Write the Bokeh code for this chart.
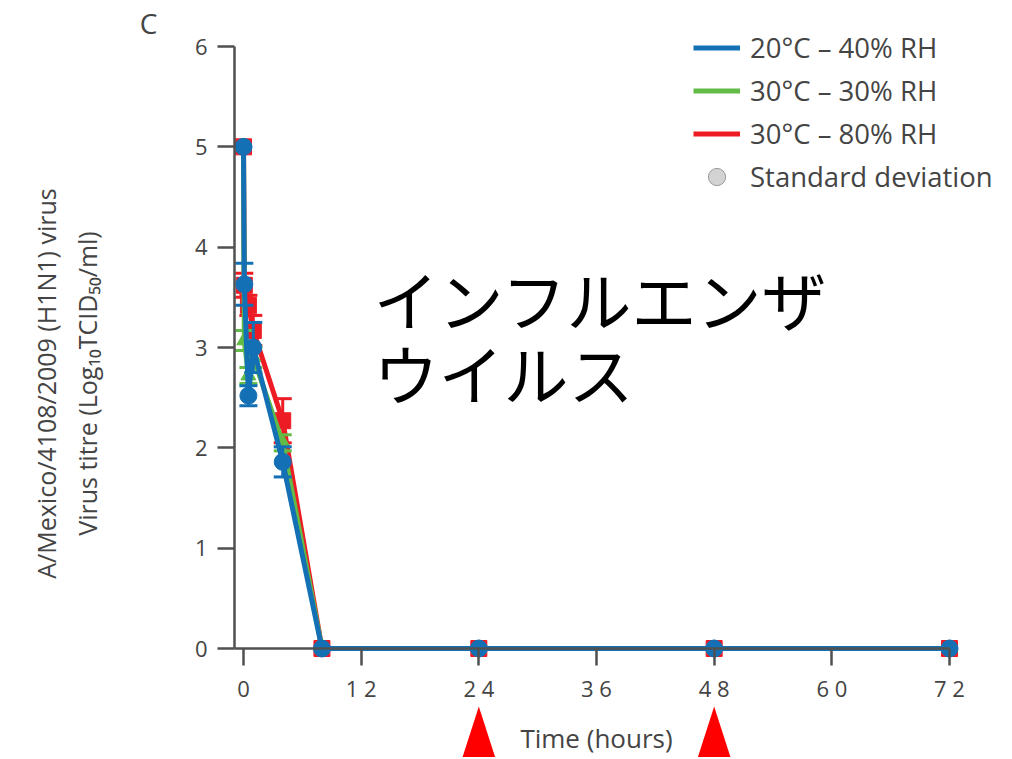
import math
from bokeh.plotting import figure
from bokeh.models import (ColumnDataSource, Range1d, FixedTicker, Legend, LegendItem,
                          Label, PolyAnnotation)
from bokeh.embed import file_html
from bokeh.resources import INLINE

# ---------------- data ----------------
hours = [0, 0.083, 0.5, 1, 4, 8, 24, 48, 72]

titre_20c_40rh = [5.0, 3.63, 2.52, 3.0, 1.86, 0, 0, 0, 0]
sd_20c_40rh = [0.0, 0.21, 0.10, 0.25, 0.15, 0, 0, 0, 0]

titre_30c_30rh = [5.0, 3.07, 2.72, 2.90, 2.05, 0, 0, 0, 0]
sd_30c_30rh = [0.0, 0.10, 0.08, 0.10, 0.08, 0, 0, 0, 0]

titre_30c_80rh = [5.0, 3.62, 3.42, 3.17, 2.27, 0, 0, 0, 0]
sd_30c_80rh = [0.0, 0.12, 0.10, 0.15, 0.22, 0, 0, 0, 0]

series_labels = ["20°C – 40% RH", "30°C – 30% RH", "30°C – 80% RH"]
sd_label = "Standard deviation"

x_ticks = [0, 12, 24, 36, 48, 60, 72]
x_tick_labels = ["0", "1 2", "2 4", "3 6", "4 8", "6 0", "7 2"]
y_ticks = [0, 1, 2, 3, 4, 5, 6]

arrow_hours = [24, 48]

y_title_1 = "A/Mexico/4108/2009 (H1N1) virus"
y_title_2 = "Virus titre (Log₁₀TCID₅₀/ml)"
x_title = "Time (hours)"
panel_letter = "C"
overlay_text = ["インフルエンザ", "ウイルス"]

# ---------------- styles / layout ----------------
BLUE = "#1470b4"
GREEN = "#62bb46"
RED = "#ed1c24"
AXIS = "#505050"
TEXT = "#444444"
FONT = "Open Sans"

W, H = 1010, 757
PX_PER_HOUR = 9.8056
PX_PER_UNIT = 100.333
X_ZERO_PX, Y_ZERO_PX = 243, 648          # canvas position of (0, 0)
X0 = -X_ZERO_PX / PX_PER_HOUR
X1 = (W - X_ZERO_PX) / PX_PER_HOUR
Y1 = Y_ZERO_PX / PX_PER_UNIT
Y0 = (Y_ZERO_PX - H) / PX_PER_UNIT
YAXIS_AT = -9 / PX_PER_HOUR               # y axis sits 9px left of t = 0

p = figure(width=W, height=H, x_range=Range1d(X0, X1), y_range=Range1d(Y0, Y1),
           output_backend="svg", toolbar_location=None, min_border=0)
p.outline_line_color = None
p.xgrid.visible = False
p.ygrid.visible = False
p.background_fill_color = "white"
p.border_fill_color = "white"

# axes
xa = p.xaxis[0]
xa.fixed_location = 0
xa.bounds = (YAXIS_AT, 72)
xa.ticker = FixedTicker(ticks=x_ticks)
xa.major_label_overrides = {t: l for t, l in zip(x_ticks, x_tick_labels)}
ya = p.yaxis[0]
ya.fixed_location = YAXIS_AT
ya.bounds = (0, 6)
ya.ticker = FixedTicker(ticks=y_ticks)
for ax in (xa, ya):
    ax.minor_tick_line_color = None
    ax.major_tick_in = 0
    ax.major_tick_out = 17
    ax.major_tick_line_width = 2.5
    ax.major_tick_line_color = AXIS
    ax.axis_line_width = 2.5
    ax.axis_line_color = AXIS
    ax.major_label_text_font = FONT
    ax.major_label_text_font_size = "22px"
    ax.major_label_text_color = TEXT
xa.major_label_standoff = 7
ya.major_label_standoff = 10

# series
series = [
    (titre_30c_80rh, sd_30c_80rh, RED, "square", 16, series_labels[2]),
    (titre_30c_30rh, sd_30c_30rh, GREEN, "triangle", 15, series_labels[1]),
    (titre_20c_40rh, sd_20c_40rh, BLUE, "circle", 17, series_labels[0]),
]
line_renderers = {}
for vals, sds, col, marker, msize, lab in series:
    idx = [i for i, s in enumerate(sds) if s > 0]
    eb = ColumnDataSource(dict(
        x=[hours[i] for i in idx],
        lo=[vals[i] - sds[i] for i in idx],
        hi=[vals[i] + sds[i] for i in idx],
    ))
    p.segment(x0="x", y0="lo", x1="x", y1="hi", source=eb, line_color=col, line_width=3)
    p.scatter(x="x", y="lo", source=eb, marker="dash", size=18, line_color=col, line_width=3)
    p.scatter(x="x", y="hi", source=eb, marker="dash", size=18, line_color=col, line_width=3)
    src = ColumnDataSource(dict(x=hours, y=vals))
    lr = p.line(x="x", y="y", source=src, line_color=col, line_width=5)
    p.scatter(x="x", y="y", source=src, marker=marker, size=msize,
              fill_color=col, line_color=col)
    line_renderers[lab] = lr

# legend "standard deviation" key (a not-plotted sample so the key can be drawn)
key_src = ColumnDataSource(dict(x=[float("nan")], y=[float("nan")]))
sd_dot = p.scatter(x="x", y="y", source=key_src, marker="circle", size=19,
                   fill_color="#d3d3d3", line_color="#9a9a9a", line_width=1)

items = [LegendItem(label=lab, renderers=[line_renderers[lab]]) for lab in series_labels]
items.append(LegendItem(label=sd_label, renderers=[sd_dot]))
legend = Legend(items=items, location=(693, H - 197.5), orientation="vertical",
                border_line_color=None, background_fill_alpha=0,
                padding=0, margin=0, spacing=0,
                glyph_width=47, glyph_height=43, label_height=43, label_standoff=10,
                label_text_font=FONT, label_text_font_size="27.5px", label_text_color=TEXT)
p.add_layout(legend, "center")

# red arrow markers under the axis
AH_W = 19 / PX_PER_HOUR
TIP = (Y_ZERO_PX - 706) / PX_PER_UNIT
BASE = (Y_ZERO_PX - 765) / PX_PER_UNIT
for h in arrow_hours:
    p.add_layout(PolyAnnotation(xs=[h - AH_W, h, h + AH_W], ys=[BASE, TIP, BASE],
                                fill_color="#ff0000", fill_alpha=1.0, line_color=None))

# texts
def px_x(px):
    return (px - X_ZERO_PX) / PX_PER_HOUR

def px_y(py):
    return (Y_ZERO_PX - py) / PX_PER_UNIT

def add_label(x, y, text, size, color=TEXT, font=FONT, angle=0.0, align="center"):
    p.add_layout(Label(x=x, y=y, text=text, angle=angle,
                       text_align=align, text_baseline="middle",
                       text_font=font, text_font_size=size, text_color=color))

add_label(px_x(45), px_y(383), y_title_1, "25px", angle=math.pi / 2)
add_label(px_x(86), px_y(383), y_title_2, "25px", angle=math.pi / 2)
add_label(36, px_y(737), x_title, "26px")
add_label(px_x(148), px_y(22), panel_letter, "28px")
add_label(px_x(373), px_y(297), overlay_text[0], "65px", color="black",
          font="Noto Sans CJK JP", align="left")
add_label(px_x(373), px_y(371), overlay_text[1], "65px", color="black",
          font="Noto Sans CJK JP", align="left")

open("out.html", "w").write(file_html(p, INLINE))
